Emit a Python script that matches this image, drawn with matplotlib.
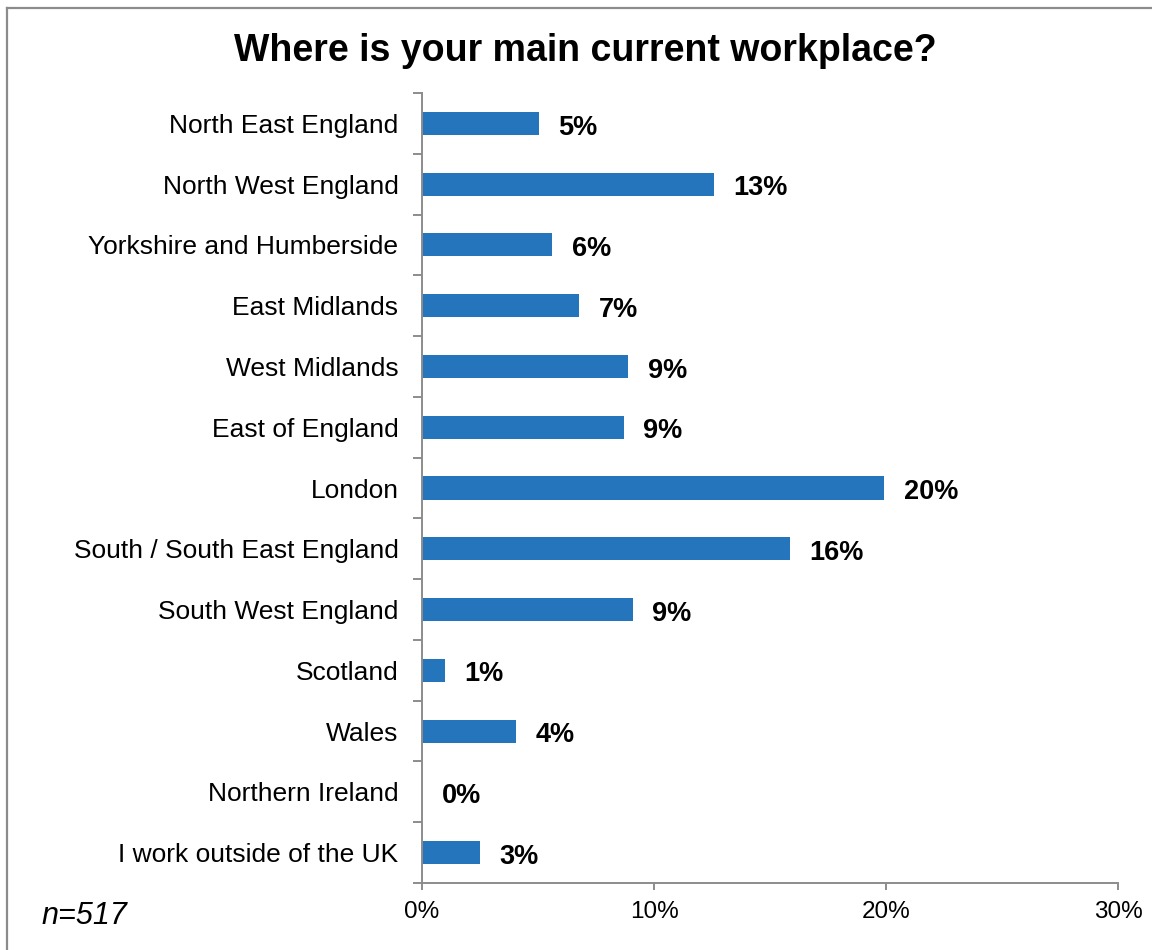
"""
Horizontal bar chart of respondents' main current workplace by UK region.
"""
import matplotlib.pyplot as plt
from matplotlib.lines import Line2D
from matplotlib.ticker import FixedLocator, PercentFormatter

plt.rcParams["font.family"] = ["Liberation Sans", "DejaVu Sans"]

regions = [
    "North East England",
    "North West England",
    "Yorkshire and Humberside",
    "East Midlands",
    "West Midlands",
    "East of England",
    "London",
    "South / South East England",
    "South West England",
    "Scotland",
    "Wales",
    "Northern Ireland",
    "I work outside of the UK",
]
share = [5.03, 12.57, 5.61, 6.77, 8.90, 8.70, 19.92, 15.86, 9.09, 0.97, 4.06, 0.0, 2.51]
x_ticks = [0, 10, 20, 30]
sample_size = 517

W, H = 1152, 950
fig = plt.figure(figsize=(W / 100, H / 100), dpi=100)
ax = fig.add_axes([422 / W, 1 - 883 / H, 696 / W, 790 / H])

grey = "#8c8c8c"
pos = range(len(regions))
ax.barh(pos, share, height=0.38, color="#2475bc", edgecolor="none")

for y, v in zip(pos, share):
    ax.annotate(f"{v:.0f}%", (v, y), xytext=(14, -3), textcoords="offset points",
                ha="left", va="center", fontsize=19.5, fontweight="bold")

ax.set_xlim(0, 30)
ax.set_ylim(len(regions) - 0.5, -0.5)
ax.set_xticks(x_ticks)
ax.xaxis.set_major_formatter(PercentFormatter(decimals=0))
ax.set_yticks(list(pos))
ax.set_yticklabels(regions)
ax.yaxis.set_minor_locator(FixedLocator([i - 0.5 for i in range(len(regions) + 1)]))

ax.tick_params(axis="y", which="major", length=0, pad=17, labelsize=19)
ax.tick_params(axis="y", which="minor", length=6.5, width=1.4, color=grey)
ax.tick_params(axis="x", length=5, width=1.4, color=grey, pad=8, labelsize=17.5)

for side in ("top", "right"):
    ax.spines[side].set_visible(False)
for side in ("left", "bottom"):
    ax.spines[side].set_color(grey)
    ax.spines[side].set_linewidth(1.4)

fig.text(585 / W, 1 - 51 / H, "Where is your main current workplace?",
         ha="center", va="center", fontsize=27, fontweight="bold")
fig.text(42 / W, 1 - 916 / H, f"n={sample_size}", ha="left", va="center",
         fontsize=22, style="italic")

# frame lines along the top and left edges
fig.add_artist(Line2D([7 / W, 1], [1 - 8 / H, 1 - 8 / H], color=grey, lw=1.6))
fig.add_artist(Line2D([7 / W, 7 / W], [0, 1 - 8 / H], color=grey, lw=1.6))

fig.savefig("out.png", dpi=100)
